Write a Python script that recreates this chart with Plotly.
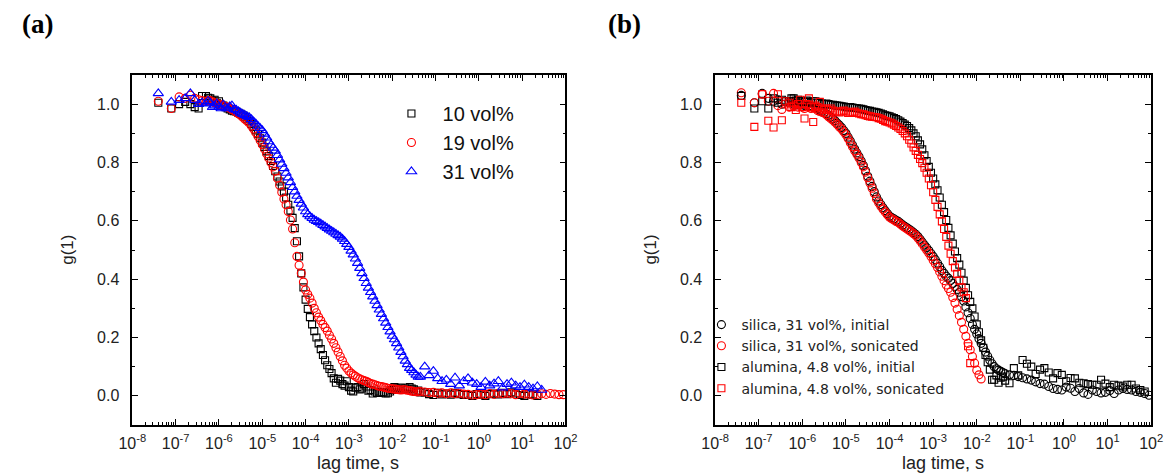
import plotly.graph_objects as go

W, H = 1173, 473

# ---------------- data ----------------
# log10 of lag time (s)
LOG_LAG = [-7.40, -7.10, -6.92, -6.78, -6.66, -6.56, -6.47, -6.39,
           -6.30, -6.25, -6.20, -6.15, -6.10, -6.05, -6.00, -5.95, -5.90, -5.85,
           -5.80, -5.75, -5.70, -5.65, -5.60, -5.55, -5.50, -5.45, -5.40, -5.35,
           -5.30, -5.25, -5.20, -5.15, -5.10, -5.05, -5.00, -4.95, -4.90, -4.85,
           -4.80, -4.75, -4.70, -4.65, -4.60, -4.55, -4.50, -4.45, -4.40, -4.35,
           -4.30, -4.25, -4.20, -4.15, -4.10, -4.05, -4.00, -3.95, -3.90, -3.85,
           -3.80, -3.75, -3.70, -3.65, -3.60, -3.55, -3.50, -3.45, -3.40, -3.35,
           -3.30, -3.25, -3.20, -3.15, -3.10, -3.05, -3.00, -2.95, -2.90, -2.85,
           -2.80, -2.75, -2.70, -2.65, -2.60, -2.55, -2.50, -2.45, -2.40, -2.35,
           -2.30, -2.25, -2.20, -2.15, -2.10, -2.05, -2.00, -1.95, -1.90, -1.85,
           -1.80, -1.75, -1.70, -1.65, -1.60, -1.55, -1.50, -1.45, -1.40, -1.35,
           -1.25, -1.15, -1.05, -0.95, -0.85, -0.75, -0.65, -0.55, -0.45, -0.35,
           -0.25, -0.15, -0.05, 0.05, 0.15, 0.25, 0.35, 0.45, 0.55, 0.65,
           0.75, 0.85, 0.95, 1.05, 1.15, 1.25, 1.35, 1.45, 1.55, 1.65,
           1.75, 1.85, 1.95]

N = None

# panel (a)
g_10 = [1.005, 0.985, 1.000, 1.008, 1.000, 0.990, 0.985, 1.028,
        1.028, 1.022, 1.020, 1.012, 1.015, 1.005, 1.010, 0.998, 0.995, 0.990,
        0.985, 0.982, 0.978, 0.976, 0.975, 0.970, 0.967, 0.962, 0.957, 0.950,
        0.942, 0.932, 0.922, 0.910, 0.897, 0.883, 0.868, 0.853, 0.838, 0.822,
        0.805, 0.788, 0.770, 0.752, 0.735, 0.718, 0.700, 0.680, 0.655, 0.635,
        0.610, 0.575, 0.530, 0.478, 0.420, 0.372, 0.330, 0.298, 0.270, 0.245,
        0.222, 0.200, 0.180, 0.160, 0.140, 0.122, 0.105, 0.092, 0.078, 0.060,
        0.045, 0.058, 0.052, 0.040, 0.035, 0.050, 0.030, 0.018, 0.015, 0.028,
        0.030, 0.022, 0.025, 0.040, 0.032, 0.018, 0.020, 0.008, 0.015, 0.010,
        0.010, 0.012, 0.012, 0.008, 0.009, 0.015, 0.020, 0.030, 0.026, 0.022,
        0.028, 0.020, 0.026, 0.022, 0.030, 0.025, 0.022, 0.015, 0.018, 0.012,
        0.012, 0.006, 0.003, 0.010, 0.005, 0.008, 0.004, 0.010, 0.006, 0.003,
        0.003, 0.000, 0.006, 0.004, 0.000, 0.006, 0.008, 0.005, 0.010, 0.006,
        0.012, 0.008, 0.003, 0.000, 0.006, 0.004, 0.000, N, N, N,
        N, N, N]
g_19 = [1.010, 0.985, 1.025, 1.020, 1.031, 1.020, 1.015, 1.012,
        1.010, 1.012, 1.012, 1.008, 1.005, 1.002, 1.000, 0.998, 0.995, 0.992,
        0.990, 0.986, 0.982, 0.977, 0.972, 0.967, 0.962, 0.955, 0.948, 0.942,
        0.935, 0.925, 0.915, 0.903, 0.890, 0.876, 0.862, 0.846, 0.830, 0.815,
        0.800, 0.785, 0.770, 0.746, 0.722, 0.698, 0.675, 0.655, 0.632, 0.603,
        0.572, 0.525, 0.478, 0.448, 0.420, 0.390, 0.363, 0.348, 0.335, 0.318,
        0.300, 0.285, 0.270, 0.258, 0.245, 0.234, 0.222, 0.208, 0.195, 0.180,
        0.165, 0.150, 0.135, 0.120, 0.105, 0.095, 0.085, 0.078, 0.072, 0.067,
        0.062, 0.058, 0.055, 0.052, 0.050, 0.046, 0.042, 0.040, 0.038, 0.035,
        0.033, 0.032, 0.030, 0.028, 0.026, 0.025, 0.024, 0.023, 0.022, 0.021,
        0.020, 0.021, 0.021, 0.019, 0.018, 0.016, 0.015, 0.014, 0.014, 0.015,
        0.013, 0.011, 0.012, 0.009, 0.010, 0.007, 0.010, 0.007, 0.009, 0.006,
        0.005, 0.003, 0.004, 0.006, 0.004, 0.008, 0.005, 0.009, 0.007, 0.009,
        0.007, 0.004, 0.008, 0.006, 0.006, 0.003, 0.005, 0.007, 0.005, 0.008,
        0.006, 0.004, 0.004]
g_31 = [1.037, 1.008, 1.014, 1.020, 1.037, 1.014, 1.000, 1.005,
        1.002, 1.010, 1.005, 0.990, 0.995, 1.002, 0.990, 0.985, 0.998, 0.988,
        0.985, 0.992, 0.995, 0.982, 0.980, 0.975, 0.970, 0.966, 0.962, 0.958,
        0.955, 0.948, 0.940, 0.933, 0.925, 0.918, 0.910, 0.898, 0.885, 0.872,
        0.860, 0.850, 0.840, 0.825, 0.810, 0.795, 0.780, 0.764, 0.748, 0.732,
        0.715, 0.700, 0.685, 0.671, 0.658, 0.645, 0.632, 0.622, 0.615, 0.609,
        0.603, 0.599, 0.595, 0.590, 0.585, 0.580, 0.575, 0.570, 0.565, 0.560,
        0.555, 0.550, 0.545, 0.538, 0.530, 0.520, 0.510, 0.497, 0.484, 0.470,
        0.455, 0.438, 0.420, 0.403, 0.386, 0.370, 0.355, 0.340, 0.325, 0.310,
        0.295, 0.280, 0.265, 0.250, 0.235, 0.220, 0.205, 0.193, 0.180, 0.165,
        0.150, 0.135, 0.120, 0.108, 0.095, 0.088, 0.080, 0.072, 0.065, 0.065,
        0.100, 0.070, 0.085, 0.060, 0.050, 0.055, 0.040, 0.062, 0.035, 0.050,
        0.060, 0.045, 0.040, 0.030, 0.048, 0.035, 0.042, 0.050, 0.028, 0.040,
        0.045, 0.035, 0.030, 0.038, 0.030, 0.025, 0.032, 0.020, N, N,
        N, N, N]

# panel (b)
g_si_init = [1.030, 1.005, 1.037, 1.020, 1.010, 1.015, 1.000, 1.010,
             1.005, 1.008, 1.000, 1.002, 0.998, 1.000, 1.000, 0.995, 0.996, 0.994,
             0.992, 0.990, 0.988, 0.984, 0.980, 0.976, 0.972, 0.967, 0.962, 0.956,
             0.950, 0.943, 0.935, 0.928, 0.920, 0.910, 0.900, 0.887, 0.874, 0.860,
             0.846, 0.833, 0.820, 0.805, 0.790, 0.772, 0.753, 0.736, 0.718, 0.700,
             0.682, 0.668, 0.656, 0.645, 0.635, 0.625, 0.616, 0.611, 0.607, 0.602,
             0.598, 0.592, 0.586, 0.581, 0.576, 0.571, 0.566, 0.560, 0.554, 0.546,
             0.537, 0.527, 0.517, 0.508, 0.498, 0.488, 0.478, 0.467, 0.455, 0.443,
             0.430, 0.420, 0.410, 0.403, 0.395, 0.385, 0.375, 0.365, 0.355, 0.340,
             0.325, 0.305, 0.285, 0.265, 0.245, 0.228, 0.212, 0.196, 0.180, 0.165,
             0.150, 0.136, 0.122, 0.110, 0.100, 0.093, 0.088, 0.084, 0.080, 0.076,
             0.072, 0.070, 0.066, 0.062, 0.058, 0.054, 0.048, 0.042, 0.040, 0.032,
             0.025, 0.022, 0.020, 0.030, 0.026, 0.015, 0.025, 0.010, 0.005, 0.020,
             0.015, 0.010, 0.012, 0.018, 0.008, 0.020, 0.025, 0.022, 0.020, 0.015,
             0.012, 0.008, 0.002]
g_si_son = [1.039, 1.005, 1.034, 1.010, 1.037, 0.995, 0.982, 1.000,
            0.990, 1.010, 0.995, 1.008, 0.990, 1.000, 0.990, 0.985, 0.997, 0.990,
            0.985, 0.988, 0.985, 0.978, 0.975, 0.972, 0.970, 0.964, 0.957, 0.951,
            0.945, 0.938, 0.930, 0.922, 0.915, 0.905, 0.895, 0.882, 0.868, 0.854,
            0.840, 0.828, 0.815, 0.800, 0.785, 0.767, 0.748, 0.730, 0.712, 0.694,
            0.675, 0.662, 0.650, 0.640, 0.630, 0.621, 0.612, 0.607, 0.603, 0.598,
            0.594, 0.588, 0.582, 0.577, 0.572, 0.567, 0.562, 0.556, 0.550, 0.541,
            0.532, 0.521, 0.510, 0.500, 0.490, 0.478, 0.465, 0.453, 0.440, 0.425,
            0.410, 0.395, 0.380, 0.368, 0.355, 0.337, 0.318, 0.297, 0.275, 0.252,
            0.228, 0.204, 0.180, 0.158, 0.135, 0.112, 0.088, 0.072, 0.058, N,
            N, N, N, N, N, N, N, N, N, N,
            N, N, N, N, N, N, N, N, N, N,
            N, N, N, N, N, N, N, N, N, N,
            N, N, N, N, N, N, N, N, N, N,
            N, N, N]
g_al_init = [1.028, 0.985, 1.010, 0.985, 1.020, 1.005, 1.015, 1.010,
             1.010, 1.020, 1.020, 1.012, 1.015, 1.010, 1.010, 1.008, 1.012, 1.008,
             1.005, 1.010, 1.010, 1.005, 1.005, 1.002, 1.000, 1.002, 1.000, 0.998,
             0.998, 0.996, 0.995, 0.994, 0.993, 0.992, 0.990, 0.990, 0.990, 0.988,
             0.987, 0.986, 0.985, 0.984, 0.982, 0.980, 0.978, 0.977, 0.975, 0.974,
             0.972, 0.970, 0.968, 0.965, 0.962, 0.960, 0.958, 0.955, 0.952, 0.949,
             0.945, 0.940, 0.935, 0.930, 0.925, 0.918, 0.910, 0.900, 0.890, 0.876,
             0.862, 0.845, 0.825, 0.805, 0.785, 0.765, 0.745, 0.725, 0.705, 0.680,
             0.655, 0.630, 0.603, 0.576, 0.550, 0.522, 0.495, 0.472, 0.450, 0.422,
             0.395, 0.370, 0.345, 0.322, 0.300, 0.272, 0.245, 0.218, 0.190, 0.165,
             0.140, 0.115, 0.090, 0.055, 0.055, 0.070, 0.045, 0.062, 0.066, 0.052,
             0.043, 0.095, 0.070, 0.123, 0.110, 0.100, 0.075, 0.090, 0.095, 0.080,
             0.060, 0.078, 0.072, 0.050, 0.061, 0.060, 0.045, 0.043, 0.040, 0.038,
             0.038, 0.055, 0.042, 0.030, 0.038, 0.035, 0.032, 0.038, 0.038, 0.025,
             0.020, 0.015, N]
g_al_son = [1.005, 0.922, 1.034, 0.943, 0.920, 1.034, 0.945, 1.010,
            1.005, 0.990, 0.995, 0.980, 1.000, 1.015, 0.990, 0.951, 1.000, 1.020,
            0.990, 0.939, 0.995, 0.990, 1.008, 0.985, 0.980, 0.985, 0.980, 0.985,
            0.978, 0.975, 0.975, 0.972, 0.975, 0.978, 0.975, 0.970, 0.970, 0.972,
            0.975, 0.970, 0.968, 0.966, 0.965, 0.962, 0.960, 0.958, 0.957, 0.956,
            0.955, 0.952, 0.950, 0.946, 0.942, 0.940, 0.937, 0.934, 0.930, 0.925,
            0.920, 0.915, 0.908, 0.900, 0.890, 0.878, 0.865, 0.852, 0.840, 0.826,
            0.812, 0.798, 0.782, 0.765, 0.745, 0.722, 0.698, 0.672, 0.648, 0.622,
            0.598, 0.572, 0.545, 0.515, 0.487, 0.462, 0.440, 0.418, 0.395, 0.372,
            0.355, 0.335, 0.170, 0.112, N, N, N, N, N, N,
            N, N, N, N, N, N, N, N, N, N,
            N, N, N, N, N, N, N, N, N, N,
            N, N, N, N, N, N, N, N, N, N,
            N, N, N, N, N, N, N, N, N, N,
            N, N, N]

names_a = ["10 vol%", "19 vol%", "31 vol%"]
names_b = ["silica, 31 vol%, initial", "silica, 31 vol%, sonicated",
           "alumina, 4.8 vol%, initial", "alumina, 4.8 vol%, sonicated"]

TICK_EXP = [-8, -7, -6, -5, -4, -3, -2, -1, 0, 1, 2]
TICK_TEXT = ["10<sup>%d</sup>" % e for e in TICK_EXP]
Y_TICKS = [0.0, 0.2, 0.4, 0.6, 0.8, 1.0]

lag = [10 ** e for e in LOG_LAG]

# ---------------- figure ----------------
def px_x(p):
    return p / W

def px_y(p):
    return 1 - p / H

FONT = "Liberation Sans, Arial, sans-serif"
fig = go.Figure()

def add(x, y, name, symbol, color, size, xa, ya, legend):
    fig.add_trace(go.Scatter(
        x=x, y=y, name=name, mode="markers", xaxis=xa, yaxis=ya, legend=legend,
        marker=dict(symbol=symbol, size=size, color=color,
                    line=dict(color=color, width=1.1)),
    ))

add(lag, g_10, "  " + names_a[0], "square-open", "black", 7, "x", "y", "legend")
add(lag, g_19, "  " + names_a[1], "circle-open", "red", 8, "x", "y", "legend")
add(lag, g_31, "  " + names_a[2], "triangle-up-open", "blue", 9, "x", "y", "legend")

add(lag, g_si_init, names_b[0], "circle-open", "black", 8, "x2", "y2", "legend2")
add(lag, g_si_son, names_b[1], "circle-open", "red", 8, "x2", "y2", "legend2")
add(lag, g_al_init, names_b[2], "square-open", "black", 7, "x2", "y2", "legend2")
add(lag, g_al_son, names_b[3], "square-open", "red", 7, "x2", "y2", "legend2")

xcommon = dict(
    type="log", range=[-8, 2], tickmode="array",
    tickvals=[10 ** e for e in TICK_EXP], ticktext=TICK_TEXT,
    ticks="inside", ticklen=6, tickwidth=1, tickcolor="black",
    showline=True, linecolor="black", linewidth=1.5, mirror="ticks",
    showgrid=False, zeroline=False,
    tickfont=dict(family=FONT, size=16, color="#222"),
    ticklabelstandoff=3,
    minor=dict(ticks="inside", ticklen=3, tickcolor="black", tickwidth=1,
               dtick="D1", showgrid=False),
)
ycommon = dict(
    range=[-0.1, 1.1], tickmode="array", tickvals=Y_TICKS,
    ticktext=["%.1f" % v for v in Y_TICKS],
    ticks="inside", ticklen=6, tickwidth=1, tickcolor="black",
    showline=True, linecolor="black", linewidth=1.5, mirror="ticks",
    showgrid=False, zeroline=False,
    tickfont=dict(family=FONT, size=16, color="#222"),
    ticklabelstandoff=8,
    minor=dict(ticks="inside", ticklen=3, tickcolor="black", tickwidth=1,
               dtick=0.1, showgrid=False),
)

ydom = [px_y(425), px_y(75)]
fig.update_layout(
    width=W, height=H, margin=dict(l=0, r=0, t=0, b=0),
    paper_bgcolor="white", plot_bgcolor="white", showlegend=True,
    xaxis=dict(xcommon, domain=[px_x(121), px_x(564)], anchor="y"),
    yaxis=dict(ycommon, domain=ydom, anchor="x"),
    xaxis2=dict(xcommon, domain=[px_x(717), px_x(1163)], anchor="y2"),
    yaxis2=dict(ycommon, domain=ydom, anchor="x2"),
    legend=dict(x=px_x(386), y=px_y(94), xanchor="left", yanchor="top",
                bgcolor="rgba(0,0,0,0)", font=dict(family=FONT, size=20, color="#111"),
                tracegroupgap=0),
    legend2=dict(x=px_x(703), y=px_y(309), xanchor="left", yanchor="top",
                 bgcolor="rgba(0,0,0,0)",
                 font=dict(family="DejaVu Sans, sans-serif", size=14, color="#222"),
                 tracegroupgap=0),
)

annots = [
    dict(text="<b>(a)</b>", x=px_x(6), y=px_y(24), xanchor="left", yanchor="middle",
         font=dict(family="Liberation Serif, Times New Roman, serif", size=27, color="black")),
    dict(text="<b>(b)</b>", x=px_x(605), y=px_y(24), xanchor="left", yanchor="middle",
         font=dict(family="Liberation Serif, Times New Roman, serif", size=27, color="black")),
    dict(text="g(1)", x=px_x(54), y=px_y(250), textangle=-90, xanchor="center", yanchor="middle",
         font=dict(family=FONT, size=17, color="#222")),
    dict(text="g(1)", x=px_x(650), y=px_y(250), textangle=-90, xanchor="center", yanchor="middle",
         font=dict(family=FONT, size=17, color="#222")),
    dict(text="lag time, s", x=px_x(352), y=px_y(463), xanchor="center", yanchor="middle",
         font=dict(family=FONT, size=18, color="#222")),
    dict(text="lag time, s", x=px_x(950), y=px_y(463), xanchor="center", yanchor="middle",
         font=dict(family=FONT, size=18, color="#222")),
]
for a in annots:
    a.update(xref="paper", yref="paper", showarrow=False)
fig.update_layout(annotations=annots)

fig.write_html("out.html")
